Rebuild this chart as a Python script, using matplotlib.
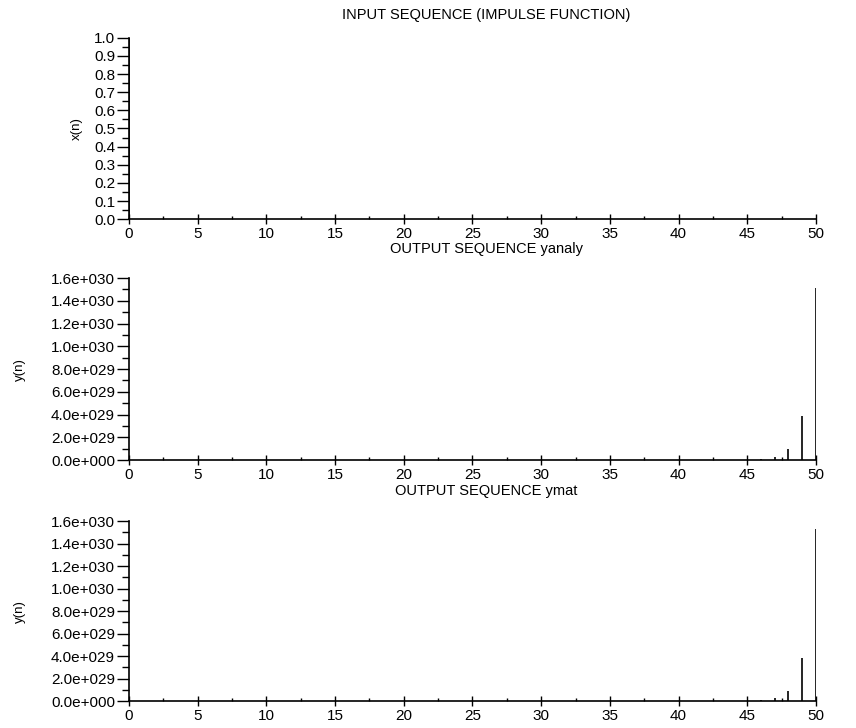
import matplotlib.pyplot as plt
import numpy as np

plt.rcParams['font.family'] = ['Liberation Sans', 'DejaVu Sans']

# sample index
n = list(range(0, 51))

# input: unit impulse at n = 0
x_in = [1.0] + [0.0] * 50

# output sequences (only the last few samples are visible)
y_anal_tail = {44: 4.0e26, 45: 1.6e27, 46: 6.4e27, 47: 2.5e28, 48: 1.0e29, 49: 3.85e29, 50: 1.51e30}
y_mat_tail = {44: 4.0e26, 45: 1.6e27, 46: 6.4e27, 47: 2.4e28, 48: 9.2e28, 49: 3.8e29, 50: 1.53e30}
y_anal = [y_anal_tail.get(k, 0.0) for k in n]
y_mat = [y_mat_tail.get(k, 0.0) for k in n]

x_ticks = [0, 5, 10, 15, 20, 25, 30, 35, 40, 45, 50]
top_yticks = [0.0, 0.1, 0.2, 0.3, 0.4, 0.5, 0.6, 0.7, 0.8, 0.9, 1.0]
top_ylabels = ['0.0', '0.1', '0.2', '0.3', '0.4', '0.5', '0.6', '0.7', '0.8', '0.9', '1.0']
out_yticks = [0, 2e29, 4e29, 6e29, 8e29, 1e30, 1.2e30, 1.4e30, 1.6e30]
out_ylabels = ['0.0e+000', '2.0e+029', '4.0e+029', '6.0e+029', '8.0e+029',
               '1.0e+030', '1.2e+030', '1.4e+030', '1.6e+030']

titles = ['INPUT SEQUENCE (IMPULSE FUNCTION)', 'OUTPUT SEQUENCE yanaly', 'OUTPUT SEQUENCE ymat']
ylabels = ['x(n)', 'y(n)', 'y(n)']

fig = plt.figure(figsize=(8.56, 7.28), dpi=100)
left, width = 0.1507, 0.8025
boxes = [(0.699, 0.249), (0.368, 0.250), (0.037, 0.247)]
title_y = [0.979, 0.658, 0.326]

series = [x_in, y_anal, y_mat]
for i, (b, h) in enumerate(boxes):
    ax = fig.add_axes([left, b, width, h])
    ys = series[i]
    ax.vlines(n, 0, ys, color='black', linewidth=1.2)
    ax.set_xlim(0, 50)
    if i == 0:
        ax.set_ylim(0, 1.0)
        ax.set_yticks(top_yticks)
        ax.set_yticklabels(top_ylabels)
        ax.set_yticks(np.arange(0.05, 1.0, 0.1), minor=True)
        ax.set_ylabel(ylabels[i], fontsize=9.5, labelpad=8)
    else:
        ax.set_ylim(0, 1.6e30)
        ax.set_yticks(out_yticks)
        ax.set_yticklabels(out_ylabels)
        ax.set_yticks(np.arange(1e29, 1.6e30, 2e29), minor=True)
        ax.set_ylabel(ylabels[i], fontsize=9.5, labelpad=18)
    ax.set_xticks(x_ticks)
    ax.set_xticklabels([str(t) for t in x_ticks])
    ax.set_xticks(np.arange(2.5, 50, 5), minor=True)
    for s in ['top', 'right']:
        ax.spines[s].set_visible(False)
    ax.spines['left'].set_linewidth(1.2)
    ax.spines['bottom'].set_linewidth(1.2)
    ax.tick_params(axis='y', which='major', direction='out', length=9, width=1, labelsize=11, pad=1)
    ax.tick_params(axis='y', which='minor', direction='out', length=5, width=1)
    ax.tick_params(axis='x', which='major', direction='inout', length=7, width=1, labelsize=11, pad=2)
    ax.tick_params(axis='x', which='minor', direction='in', length=2, width=1)
    fig.text(0.568, title_y[i], titles[i], ha='center', va='center', fontsize=10.5)

fig.savefig('out.png', dpi=100)
